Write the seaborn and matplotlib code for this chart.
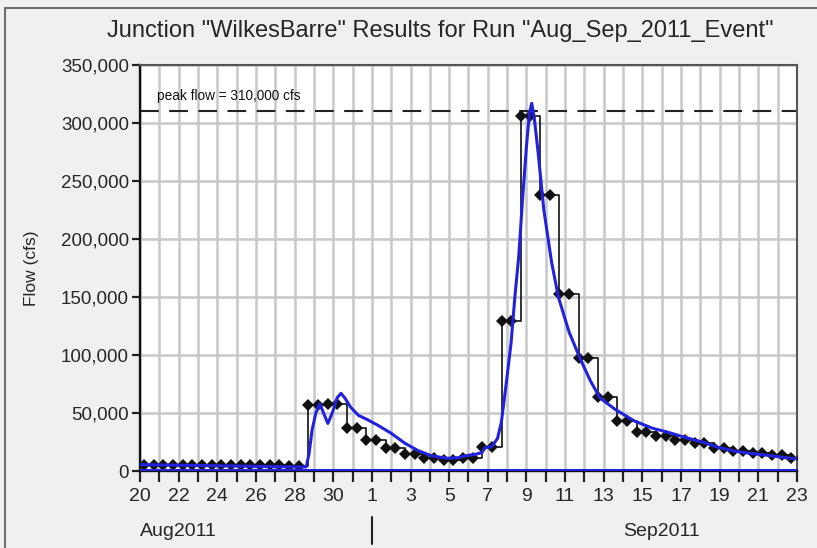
import numpy as np
import pandas as pd
import matplotlib
matplotlib.use("Agg")
import matplotlib.pyplot as plt
import matplotlib.transforms as mtransforms
from matplotlib.lines import Line2D
import seaborn as sns

# ---------------- data ----------------
title = 'Junction "WilkesBarre" Results for Run "Aug_Sep_2011_Event"'
start_date = pd.Timestamp("2011-08-20")
end_date = pd.Timestamp("2011-09-23")

# observed flow: one value per day (Aug 20 .. Sep 23), sampled every 12 h
obs_first_sample = "2011-08-19 17:00"
obs_daily_flow = [5500, 5500, 5500, 5500, 5500, 5000, 5000, 5000, 4500,
                  57000, 58000, 37000, 27000, 20000, 15000, 11500, 9500,
                  11500, 21000, 129000, 306000, 238000, 153000, 97000,
                  64000, 43500, 34000, 30000, 27000, 24500, 20000, 17000,
                  15500, 13500, 11500]

# computed flow (days since Aug 20 00:00, cfs)
comp_day = [0, 2, 4, 6, 8, 8.6, 8.75, 8.9, 9.1, 9.3, 9.5, 9.72, 9.95, 10.2,
            10.4, 10.6, 10.9, 11.3, 11.8, 12.3, 13.0, 13.7, 14.4, 15.1, 15.9,
            16.5, 16.8, 17.4, 17.7, 17.85, 18.2, 18.5, 18.7, 18.95, 19.2,
            19.4, 19.6, 19.8, 20.0, 20.15, 20.27, 20.4, 20.6, 20.9, 21.3,
            21.65, 22.2, 22.8, 23.3, 23.8, 24.6, 25.6, 26.5, 27.4, 28.2,
            29.1, 29.9, 30.8, 31.7, 32.5, 33.4, 34.0]
comp_flow = [5500, 5000, 4500, 4000, 3500, 3500, 15000, 35000, 50000, 58000,
             50000, 41000, 50000, 63000, 67000, 63000, 55000, 48000, 44000,
             39500, 32500, 24000, 17500, 13000, 11000, 11500, 13000, 14500,
             16000, 20000, 21000, 28000, 42000, 75000, 110000, 150000,
             185000, 235000, 280000, 308000, 317000, 305000, 275000, 225000,
             180000, 150000, 120000, 96000, 78000, 63000, 53000, 43000,
             37000, 33000, 29000, 25000, 20500, 17000, 15000, 13500, 11500,
             10500]

peak_flow = 310000
peak_text = "peak flow = 310,000 cfs"
base_flow = 1200
y_ticks = [0, 50000, 100000, 150000, 200000, 250000, 300000, 350000]
month_labels = ["Aug2011", "Sep2011"]
ylabel = "Flow (cfs)"

# ---------------- prep ----------------
obs_times = pd.date_range(obs_first_sample, periods=2 * len(obs_daily_flow), freq="12h")
obs_x = (obs_times - start_date) / pd.Timedelta(days=1)
obs_y = np.repeat(obs_daily_flow, 2)
obs_df = pd.DataFrame({"day": obs_x, "flow": obs_y})
comp_df = pd.DataFrame({"day": comp_day, "flow": comp_flow})
n_days = int((end_date - start_date) / pd.Timedelta(days=1))
all_days = pd.date_range(start_date, end_date, freq="D")

# ---------------- style ----------------
sns.set_theme(style="white")
plt.rcParams["font.family"] = ["Liberation Sans", "DejaVu Sans"]

W, H = 817, 548
fig = plt.figure(figsize=(W / 100, H / 100), dpi=100, facecolor="#f0f0f0")
ax = fig.add_axes([140 / W, 1 - 471 / H, (797 - 140) / W, (471 - 65) / H])
ax.set_facecolor("white")

# figure border
fig.add_artist(Line2D([5 / W, 5 / W], [0, 1 - 8 / H], transform=fig.transFigure,
                      color="#6e6e6e", lw=1.5))
fig.add_artist(Line2D([5 / W, 1], [1 - 8 / H, 1 - 8 / H], transform=fig.transFigure,
                      color="#6e6e6e", lw=1.5))

# grid
ax.set_xticks(range(n_days + 1))
ax.set_yticks(y_ticks)
ax.grid(True, color="#c8c8c8", lw=1.8)
ax.set_axisbelow(True)

# series
sns.lineplot(data=comp_df, x="day", y="flow", ax=ax, color="#2222dd", lw=2.2,
             estimator=None, sort=False, zorder=4)
sns.lineplot(data=obs_df, x="day", y="flow", ax=ax, color="#111111", lw=1.2,
             estimator=None, sort=False, drawstyle="steps-post", marker="D",
             markersize=6.5, markeredgewidth=0, zorder=3)
ax.axhline(base_flow, color="#2222dd", lw=2.2, zorder=5)
ax.axhline(peak_flow, color="#222222", lw=1.5, ls=(0, (9, 5)), zorder=2)
ax.text(0.9, peak_flow + 7000, peak_text, fontsize=9.8, color="#111111",
        va="bottom", ha="left")

ax.set_xlim(0, n_days)
ax.set_ylim(0, 350000)

# tick labels
ax.set_xticklabels([str(d.day) if i % 2 == 0 else "" for i, d in enumerate(all_days)],
                   fontsize=14)
ax.set_yticklabels([f"{v:,}" for v in y_ticks], fontsize=13.5)
ax.tick_params(axis="x", direction="out", length=8, width=1.6, color="#222222",
               pad=4, bottom=True)
ax.tick_params(axis="y", direction="out", length=6, width=1.6, color="#222222",
               pad=2, left=True)
ax.set_xlabel("")
ax.set_ylabel(ylabel, fontsize=12.5, labelpad=16)

for side in ["left", "bottom"]:
    ax.spines[side].set_color("#111111")
    ax.spines[side].set_linewidth(1.7)
for side in ["top", "right"]:
    ax.spines[side].set_color("#555555")
    ax.spines[side].set_linewidth(1.5)

# month labels and separator
trans = mtransforms.blended_transform_factory(ax.transData, ax.transAxes)
ax.text(0, -0.148, month_labels[0], transform=trans, ha="left", va="center",
        fontsize=14)
ax.text(27.0, -0.148, month_labels[1], transform=trans, ha="center", va="center",
        fontsize=14)
sep_x = (pd.Timestamp("2011-09-01") - start_date) / pd.Timedelta(days=1)
ax.add_line(Line2D([sep_x, sep_x], [-0.114, -0.18], transform=trans, color="#222222",
                   lw=1.5, clip_on=False))

fig.text(440 / W, 1 - 31 / H, title, ha="center", va="center", fontsize=17)

fig.savefig("out.png", dpi=100, facecolor=fig.get_facecolor())
